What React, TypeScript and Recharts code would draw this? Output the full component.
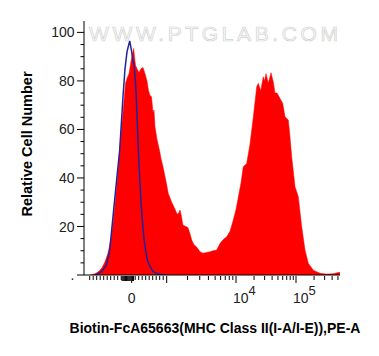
import React from "react";
import { ComposedChart, Area, Line, XAxis, YAxis } from "recharts";

// Histogram channels (display position on biexponential axis, 0..256) and values
const redChannels = [6, 11, 15, 18, 21, 24, 27, 29, 31, 33, 35, 37, 39, 41.5, 43, 45, 47, 49.7, 50.5, 51.5, 53, 55, 57, 59, 61, 63, 64.5, 66, 67.5, 69, 70, 71, 73, 75.7, 77, 79, 82.3, 84.3, 87.7, 90, 92.7, 94, 96, 97, 99, 102, 104, 106, 107.7, 110, 112.7, 116, 119, 122.7, 126, 129, 132.7, 136, 139, 142.7, 146, 149.3, 152, 154.3, 157, 159.3, 162.7, 166, 169.3, 172.7, 174.3, 176.7, 179.3, 180.5, 182, 184.3, 187, 189.3, 191, 193, 196, 198.7, 201, 204.3, 206, 207.7, 211, 214.3, 217.7, 221, 224.3, 229.3, 236, 242, 249.3, 254, 256];
const redValues = [0, 0.5, 1.5, 3, 5.5, 9, 15, 21, 29, 38, 48, 58, 67, 79, 81, 83, 88, 93.4, 90, 86.5, 85, 83.5, 85, 85.5, 83, 80, 76, 74, 73.5, 67, 68, 61, 56, 51, 48, 44.6, 38, 33.6, 30, 28, 25.5, 25, 26.8, 25, 20.5, 20, 19.5, 17, 14.4, 12.5, 11.5, 9.6, 9, 9.3, 9.6, 10, 10.3, 13, 14.5, 15.8, 18, 22.7, 27, 32, 38, 44.6, 46, 54, 65, 77.6, 79, 76, 81.7, 80, 83, 79, 83.4, 79.6, 75, 75, 72.8, 70.8, 65.2, 63.9, 57, 48.7, 36.4, 32.3, 19.9, 10.3, 4.8, 2, 0.7, 0.4, 0.5, 1, 1];

const blueChannels = [12, 17.3, 22.3, 25.7, 29, 32.3, 35.7, 39, 41, 43, 45.7, 47.7, 49, 50, 51.3, 52, 53, 54, 55.7, 57, 58.5, 60, 61.8, 63.5, 66, 69, 72.3, 77, 82];
const blueValues = [0, 1.4, 4, 10.3, 24, 37.8, 51.5, 73.5, 85, 92, 96.5, 92, 88, 87, 80, 76, 66, 55, 40, 30, 22, 15, 9.5, 6, 3.5, 1.5, 0.7, 0.2, 0];

const yTickValues = [0, 5, 10, 15, 20, 25, 30, 35, 40, 45, 50, 55, 60, 65, 70, 75, 80, 85, 90, 95, 100];
const yMajorStep = 20;

// x-axis tick values in fluorescence units
const xLinearMinor = [-1200, -1100, -1000, -900, -800, -700, -600, -500, -400, -300, 100, 200, 300, 400, 500, 600, 700, 800, 900];
const xZeroCluster = [-275, -250, -225, -200, -175, -150, -125, -100, -75, -50, -25, 25, 50];
const xLogMinor = [2e3, 3e3, 4e3, 5e3, 6e3, 7e3, 8e3, 9e3, 2e4, 3e4, 4e4, 5e4, 6e4, 7e4, 8e4, 9e4, 2e5, 3e5, 4e5, 5e5];
const xMajor = [0, 1e3, 1e4, 1e5];
const xLabels: Record<number, string> = { 0: "0", 10000: "10|4", 100000: "10|5" };

// biexponential-like display transform (value -> channel)
function toChannel(v: number): number {
  if (v <= 1000) return 47.7 + 0.035 * v;
  if (v <= 1e4) return 82.7 + 69.3 * Math.log10(v / 1000);
  return 152 + 60 * Math.log10(v / 1e4);
}

const redData = redChannels.map((c, i) => ({ ch: c, v: redValues[i] }));
const blueData = blueChannels.map((c, i) => ({ ch: c, v: blueValues[i] }));

type TickInfo = { major: boolean; label?: string; len: number };
const tickInfo = new Map<string, TickInfo>();
const xTicks: number[] = [];
const addTick = (v: number, info: TickInfo) => {
  const c = Math.round(toChannel(v) * 1000) / 1000;
  xTicks.push(c);
  tickInfo.set(c.toFixed(3), info);
};
xLinearMinor.forEach((v) => addTick(v, { major: false, len: 4 }));
xZeroCluster.forEach((v) => addTick(v, { major: false, len: 5 }));
xLogMinor.forEach((v) => addTick(v, { major: false, len: 4 }));
xMajor.forEach((v) => addTick(v, { major: true, len: 7, label: xLabels[v] }));

const FONT = "'Liberation Sans', Arial, sans-serif";

const YTick = (props: any) => {
  const { x, y, payload } = props;
  const v = payload.value as number;
  const major = v % yMajorStep === 0;
  return (
    <g>
      <line x1={x - (major ? 7 : 3.5)} x2={x} y1={y} y2={y} stroke="#000" strokeWidth={1} />
      {major && (
        <text x={x - 9.5} y={y} dy="0.36em" textAnchor="end" fontSize={14} fill="#222" fontFamily={FONT}>
          {v === 0 ? "." : v}
        </text>
      )}
    </g>
  );
};

const XTick = (props: any) => {
  const { x, y, payload } = props;
  const info = tickInfo.get((Math.round(payload.value * 1000) / 1000).toFixed(3));
  if (!info) return null;
  let label: React.ReactNode = null;
  if (info.label) {
    if (info.label.includes("|")) {
      const [base, exp] = info.label.split("|");
      label = (
        <text x={x - 3} y={y + 28} textAnchor="start" fontSize={14} fill="#222" fontFamily={FONT}>
          <tspan>{base}</tspan>
          <tspan dy={-8} fontSize={13}>{exp}</tspan>
        </text>
      );
    } else {
      label = (
        <text x={x} y={y + 28} textAnchor="middle" fontSize={14} fill="#222" fontFamily={FONT}>
          {info.label}
        </text>
      );
    }
  }
  return (
    <g>
      <line x1={x} x2={x} y1={y + 1} y2={y + 1 + info.len} stroke="#000" strokeWidth={1} />
      {label}
    </g>
  );
};

export default function App() {
  return (
    <div style={{ position: "absolute", left: 0, top: 0, width: 379, height: 356, background: "#fff" }}>
      <ComposedChart width={379} height={356} margin={{ top: 21, right: 39, bottom: 0, left: 0 }}>
        <XAxis
          dataKey="ch"
          type="number"
          domain={[0, 256]}
          ticks={xTicks}
          interval={0}
          tick={<XTick />}
          tickLine={false}
          tickSize={0}
          tickMargin={0}
          height={81}
          axisLine={{ stroke: "#000", strokeWidth: 1 }}
          allowDataOverflow
        />
        <XAxis xAxisId="top" orientation="top" type="number" domain={[0, 1]} tick={false} tickLine={false} height={0} axisLine={{ stroke: "#000", strokeWidth: 1 }} />
        <YAxis
          type="number"
          domain={[0, 104.7]}
          ticks={yTickValues}
          interval={0}
          tick={<YTick />}
          tickLine={false}
          tickSize={0}
          tickMargin={0}
          width={84}
          axisLine={{ stroke: "#000", strokeWidth: 1 }}
          allowDataOverflow
        />
        <YAxis yAxisId="right" orientation="right" type="number" domain={[0, 1]} tick={false} tickLine={false} width={0} axisLine={{ stroke: "#000", strokeWidth: 1 }} />
        <Area data={redData} dataKey="v" type="linear" fill="#ff0000" fillOpacity={1} stroke="#ff0000" strokeWidth={0.5} isAnimationActive={false} dot={false} activeDot={false} />
        <Line data={blueData} dataKey="v" type="linear" stroke="#22229a" strokeWidth={1.5} isAnimationActive={false} dot={false} activeDot={false} />
      </ComposedChart>
      <svg width={379} height={356} style={{ position: "absolute", left: 0, top: 0, pointerEvents: "none" }}>
        <text x={89} y={41} fontSize={21} fontFamily={FONT} textLength={249} lengthAdjust="spacing" fill="#fafafa" stroke="#d2d2d2" strokeWidth={0.7}>
          WWW.PTGLAB.COM
        </text>
        <text transform="translate(32,144) rotate(-90)" textAnchor="middle" fontSize={14.5} fontWeight="bold" fontFamily={FONT} fill="#000">
          Relative Cell Number
        </text>
        <text x={215} y={333} textAnchor="middle" fontSize={14} fontWeight="bold" fontFamily={FONT} fill="#000">
          Biotin-FcA65663(MHC Class II(I-A/I-E)),PE-A
        </text>
      </svg>
    </div>
  );
}
